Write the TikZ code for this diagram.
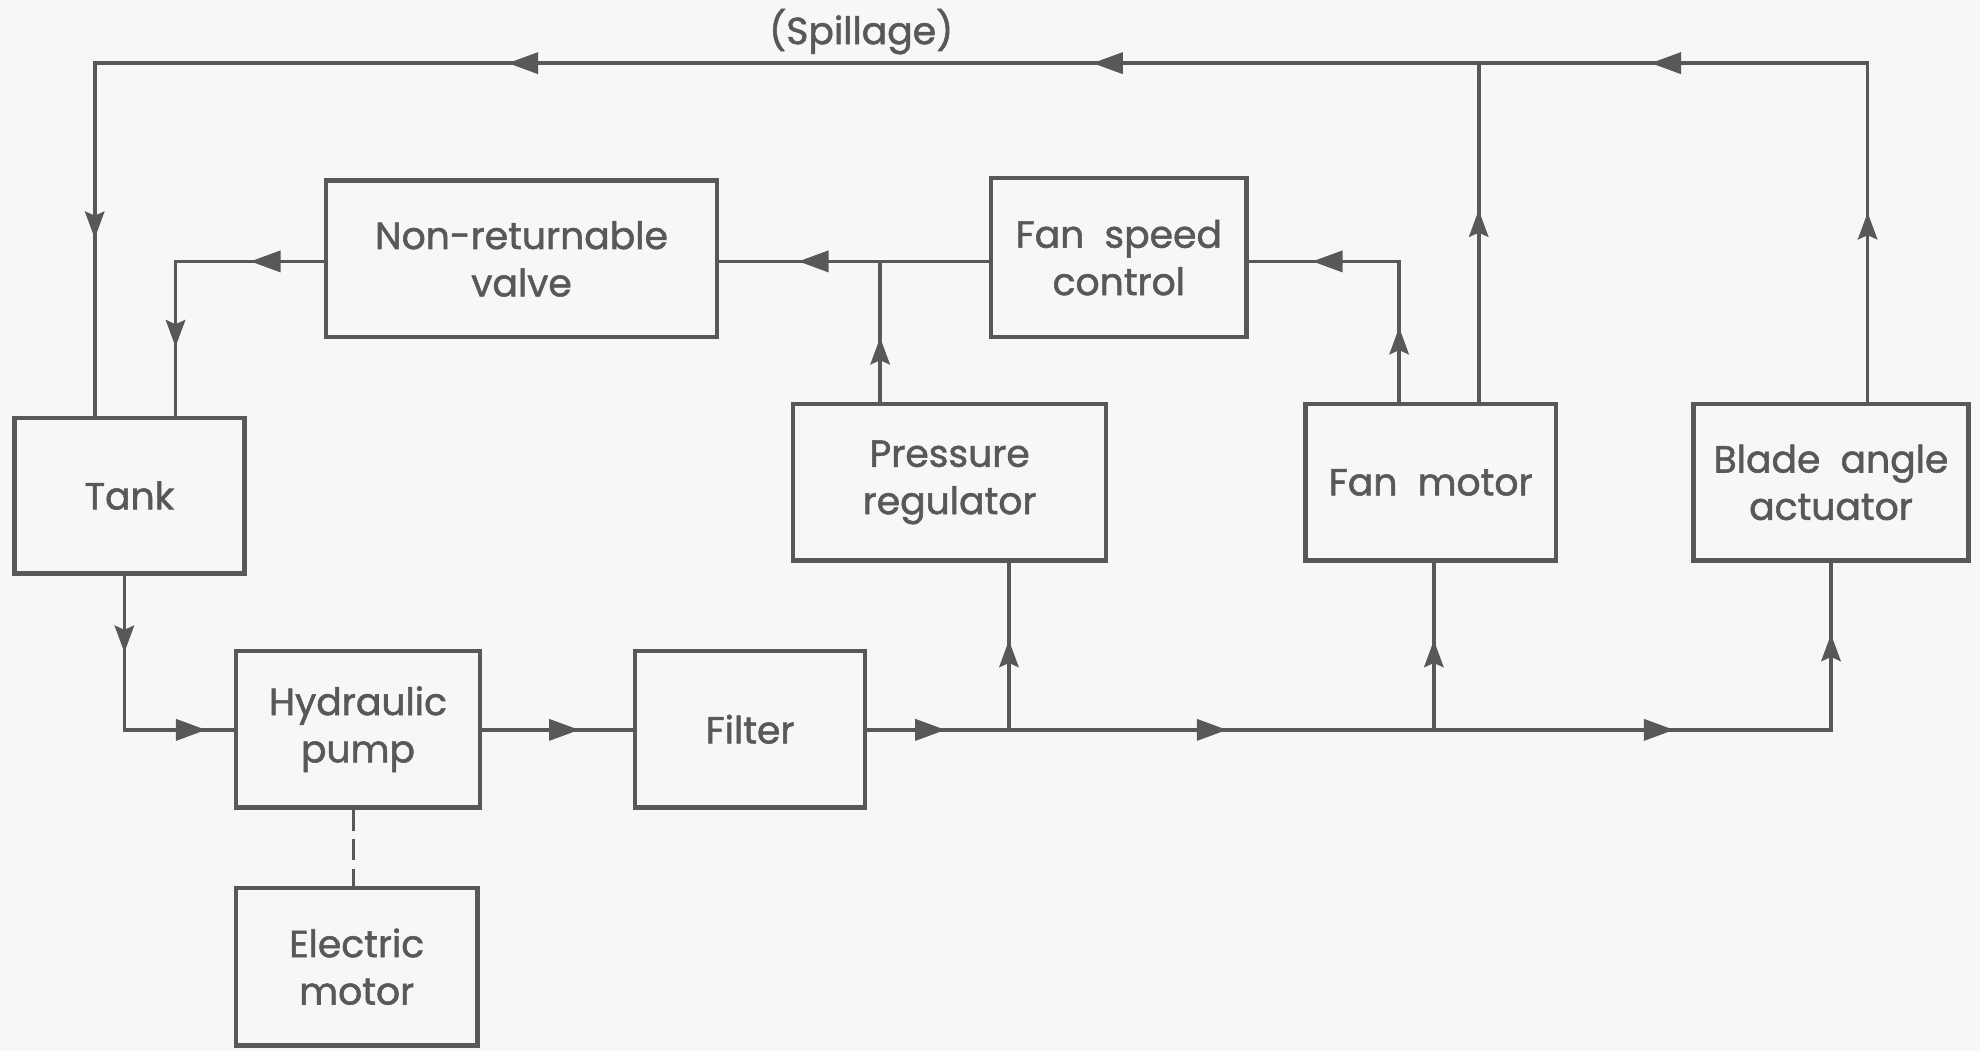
\documentclass[tikz,border=0pt]{standalone}
\usepackage{fontspec}
\setmainfont{Poppins}[FakeBold=1.4]
\usetikzlibrary{arrows.meta,decorations.markings}
\definecolor{ink}{RGB}{88,88,88}
\definecolor{paper}{RGB}{247,247,246}
\begin{document}
\begin{tikzpicture}[x=0.03cm,y=-0.03cm,
  box/.style={draw=ink, line width=3pt, align=center, inner sep=0pt, text=ink,
    font=\fontsize{25.5}{32}\selectfont},
  lbl/.style={text=ink, inner sep=0pt, font=\fontsize{25.5}{32}\selectfont},
  flow/.style={draw=ink, line width=2.5pt},
  ha/.style={postaction={decorate,decoration={markings,
    mark=at position #1 with {\arrow{Triangle[length=0.72cm,width=0.5cm]}}}}},
  va/.style={postaction={decorate,decoration={markings,
    mark=at position #1 with {\arrow{Stealth[length=0.64cm,width=0.46cm,inset=0.1cm]}}}}},
  link/.style={draw=ink, line width=2.5pt, dash pattern=on 0.5cm off 0.2cm}
]
\fill[paper] (0,0) rectangle (1568,832);
\useasboundingbox (0,0) rectangle (1568,832);

% boxes
\node[box, minimum width=5.46cm, minimum height=3.69cm] (tank) at (102.5,392.5) {Tank};
\node[box, minimum width=9.3cm,  minimum height=3.72cm] (nrv)  at (413,205) {Non-returnable\\valve};
\node[box, minimum width=6.06cm, minimum height=3.78cm] (fsc)  at (886,204) {Fan\ \ speed\\control};
\node[box, minimum width=7.44cm, minimum height=3.72cm] (pr)   at (752,382) {Pressure\\regulator};
\node[box, minimum width=5.94cm, minimum height=3.72cm] (fm)   at (1133,382) {Fan\ \ motor};
\node[box, minimum width=6.54cm, minimum height=3.72cm] (baa)  at (1450,382) {Blade\ \ angle\\actuator};
\node[box, minimum width=5.79cm, minimum height=3.72cm] (hp)   at (283.5,577.5) {Hydraulic\\pump};
\node[box, minimum width=5.46cm, minimum height=3.72cm] (filt) at (594,577.5) {Filter};
\node[box, minimum width=5.73cm, minimum height=3.75cm] (em)   at (282.5,765.5) {Electric\\motor};
\node[lbl] (spill) at (682,25) {(Spillage)};

% junction / corner coordinates
\coordinate (tr)  at (1479,50);
\coordinate (tl)  at (75,50);
\coordinate (fmT) at (1171,50);
\coordinate (fmc) at (1108,207);
\coordinate (prc) at (697,207);
\coordinate (nl)  at (139,207);
\coordinate (tb)  at (98.5,578);
\coordinate (br)  at (1450,578);
\coordinate (b1)  at (799,578);
\coordinate (b2)  at (1135.5,578);
\coordinate (dl)  at (280,600);

% spillage return loop
\draw[flow, va=4.5cm, ha=13.2cm, ha=26.46cm, ha=40.35cm, va=54.33cm]
  (baa.north -| tr) -- (tr) -- (tl) -- (tank.north -| tl);
\draw[flow, va=4.56cm] (fm.north -| fmT) -- (fmT);
% fan motor to fan speed control
\draw[flow, va=1.77cm, ha=5.4cm] (fm.north -| fmc) -- (fmc) -- (fsc.east |- fmc);
\draw[flow, ha=4.53cm] (fsc.west |- fmc) -- (nrv.east |- fmc);
\draw[flow, va=1.53cm] (pr.north -| prc) -- (prc);
% valve to tank
\draw[flow, ha=1.74cm, va=5.55cm] (nrv.west |- nl) -- (nl) -- (tank.north -| nl);
% tank to pump
\draw[flow, va=1.83cm, ha=5.61cm] (tank.south -| tb) -- (tb) -- (hp.west |- tb);
\draw[flow, ha=2.31cm] (hp.east |- tb) -- (filt.west |- tb);
% supply line
\draw[flow, ha=1.86cm, ha=8.55cm, ha=19.17cm, va=25.17cm]
  (filt.east |- br) -- (br) -- (baa.south -| br);
\draw[flow, va=2.13cm] (b1) -- (pr.south -| b1);
\draw[flow, va=2.13cm] (b2) -- (fm.south -| b2);
% mechanical drive
\draw[link] (hp.south -| dl) -- (em.north -| dl);
\end{tikzpicture}
\end{document}
